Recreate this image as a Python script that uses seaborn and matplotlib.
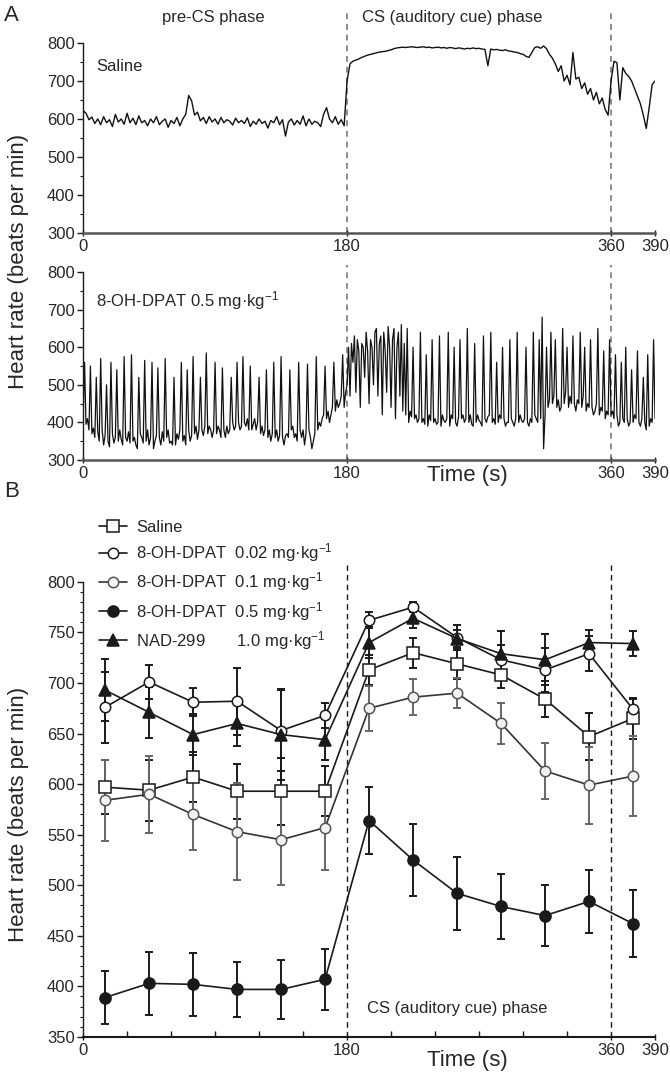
import numpy as np
import pandas as pd
import matplotlib
matplotlib.use("Agg")
import matplotlib.pyplot as plt
import seaborn as sns
from matplotlib.ticker import MultipleLocator

# ---- panel A: raw heart rate traces (beats per min)
# saline, one reading every 2 s from 0 to 390 s
saline_trace = [
    622, 615, 598, 605, 588, 600, 585, 606, 590, 598, 580, 612, 592, 600, 586,
    615, 590, 602, 585, 608, 590, 596, 582, 600, 590, 606, 585, 594, 600, 578,
    596, 588, 604, 582, 600, 612, 662, 648, 610, 618, 595, 604, 588, 606, 592,
    600, 586, 604, 590, 598, 594, 584, 602, 590, 596, 588, 603, 580, 594, 586,
    600, 588, 594, 576, 596, 590, 606, 585, 598, 555, 592, 600, 584, 596, 586,
    608, 582, 600, 586, 594, 590, 580, 612, 630, 600, 590, 606, 586, 598, 582,
    700, 745, 752, 755, 758, 762, 765, 768, 770, 772, 774, 776, 777, 778, 780,
    782, 785, 787, 788, 789, 788, 789, 790, 789, 788, 789, 790, 788, 789, 787,
    788, 789, 787, 788, 786, 788, 787, 785, 787, 786, 784, 786, 785, 787, 785,
    786, 784, 783, 740, 784, 782, 783, 781, 780, 782, 779, 778, 776, 775, 772,
    770, 765, 762, 775, 788, 790, 786, 792, 785, 770, 760, 745, 725, 740, 700,
    715, 690, 775, 705, 710, 680, 695, 665, 680, 650, 670, 640, 655, 625, 610,
    700, 752, 748, 650, 735, 720, 712, 700, 680, 660, 640, 610, 575, 630, 690,
    700,
]

# 8-OH-DPAT 0.5 mg/kg, one reading every 1 s from 0 to 390 s
dpat_trace = [
    400, 560, 395, 410, 380, 550, 370, 385, 360, 520,
    375, 350, 570, 380, 340, 365, 500, 350, 335, 560,
    370, 345, 360, 540, 350, 380, 355, 340, 575, 360,
    350, 375, 345, 580, 350, 360, 340, 330, 520, 370,
    360, 345, 565, 350, 380, 340, 360, 560, 330, 350,
    365, 545, 360, 340, 375, 350, 570, 360, 380, 345,
    350, 340, 520, 340, 370, 355, 380, 560, 350, 365,
    340, 540, 380, 350, 365, 575, 370, 390, 355, 380,
    520, 380, 365, 390, 585, 370, 390, 380, 360, 380,
    560, 370, 390, 380, 360, 545, 380, 360, 390, 370,
    380, 520, 400, 380, 390, 560, 400, 380, 390, 575,
    400, 390, 410, 380, 550, 380, 395, 410, 380, 400,
    520, 370, 390, 365, 380, 540, 360, 380, 350, 370,
    560, 360, 380, 350, 365, 575, 360, 340, 365, 370,
    360, 540, 380, 390, 360, 370, 350, 560, 380, 360,
    380, 340, 370, 555, 380, 360, 330, 350, 370, 575,
    380, 400, 390, 410, 420, 550, 410, 430, 400, 420,
    440, 560, 430, 460, 440, 450, 470, 580, 440, 480,
    500, 600, 470, 610, 560, 630, 480, 620, 590, 440,
    610, 600, 520, 640, 590, 450, 620, 600, 500, 640,
    650, 470, 610, 630, 420, 640, 590, 480, 655, 600,
    440, 620, 650, 410, 600, 640, 470, 660, 430, 610,
    420, 650, 400, 430, 415, 600, 410, 420, 400, 410,
    640, 400, 410, 395, 580, 390, 420, 405, 620, 400,
    410, 395, 400, 630, 390, 420, 405, 400, 410, 640,
    390, 420, 410, 600, 400, 390, 415, 620, 410, 420,
    400, 410, 650, 400, 420, 395, 390, 610, 400, 420,
    405, 400, 390, 630, 410, 400, 415, 420, 640, 400,
    410, 395, 560, 400, 420, 410, 600, 410, 390, 400,
    400, 620, 410, 400, 390, 410, 640, 400, 420, 405,
    400, 410, 600, 400, 390, 410, 400, 640, 420, 410,
    400, 620, 410, 680, 330, 420, 600, 440, 460, 640,
    450, 470, 620, 440, 460, 430, 440, 650, 450, 480,
    600, 440, 470, 450, 630, 450, 430, 460, 450, 640,
    440, 470, 600, 430, 450, 440, 620, 440, 420, 430,
    450, 650, 420, 440, 430, 590, 410, 430, 420, 620,
    420, 430, 410, 580, 420, 390, 400, 560, 410, 400,
    600, 410, 390, 400, 540, 400, 420, 410, 590, 400,
    390, 410, 520, 400, 380, 580, 390, 410, 400, 620, 410,
]

# ---- panel B: 30 s bin means and SEM
bin_times = [15, 45, 75, 105, 135, 165, 195, 225, 255, 285, 315, 345, 375]

saline_mean = [597, 594, 607, 593, 593, 593, 713, 730, 719, 708, 684, 647, 665]
saline_sem = [27, 30, 25, 27, 33, 25, 15, 15, 15, 13, 18, 23, 20]

dpat002_mean = [676, 701, 681, 682, 653, 668, 762, 775, 745, 723, 713, 729, 674]
dpat002_sem = [35, 17, 14, 33, 40, 12, 8, 5, 12, 15, 22, 17, 10]

dpat01_mean = [584, 590, 570, 553, 545, 557, 675, 686, 690, 660, 613, 599, 608]
dpat01_sem = [40, 38, 35, 48, 45, 42, 22, 18, 15, 20, 28, 38, 40]

dpat05_mean = [389, 403, 402, 397, 397, 407, 564, 525, 492, 479, 470, 484, 462]
dpat05_sem = [26, 31, 31, 27, 29, 30, 33, 36, 36, 32, 30, 31, 33]

nad_mean = [693, 671, 649, 660, 649, 644, 740, 764, 744, 729, 723, 740, 739]
nad_sem = [31, 25, 20, 22, 45, 20, 15, 10, 8, 22, 25, 12, 12]

group_labels = [
    "Saline",
    "8-OH-DPAT  0.02 mg·kg$^{-1}$",
    "8-OH-DPAT  0.1 mg·kg$^{-1}$",
    "8-OH-DPAT  0.5 mg·kg$^{-1}$",
    "NAD-299       1.0 mg·kg$^{-1}$",
]

sns.set_theme(style="ticks")
plt.rcParams['font.family'] = ['Liberation Sans', 'DejaVu Sans']
plt.rcParams['mathtext.default'] = 'regular'

fig = plt.figure(figsize=(6.7, 10.74), dpi=100)
W = 0.8537
axA1 = fig.add_axes([0.124, 0.7831, W, 0.1769])
axA2 = fig.add_axes([0.124, 0.5717, W, 0.1750])
axB = fig.add_axes([0.124, 0.0345, W, 0.4237])

FS = 12
LFS = 16


def style_axis(ax, ymin, ymax, ymajor, yminor):
    ax.set_xlim(0, 390)
    ax.set_ylim(ymin, ymax)
    ax.set_xticks([0, 180, 360, 390])
    ax.yaxis.set_major_locator(MultipleLocator(ymajor))
    ax.yaxis.set_minor_locator(MultipleLocator(yminor))
    sns.despine(ax=ax)
    ax.spines['left'].set_color('k')
    ax.spines['left'].set_linewidth(1.0)
    ax.tick_params(axis='y', which='major', direction='out', length=4, width=1,
                   color='k', labelsize=FS, pad=2)
    ax.tick_params(axis='y', which='minor', direction='out', length=2.5, width=0.8, color='k')
    ax.tick_params(axis='x', which='major', direction='inout', length=5, width=1,
                   color='k', labelsize=FS, pad=2)
    ax.set_xlabel('')
    ax.set_ylabel('')


# ---- panel A
t_sal = np.linspace(0, 390, len(saline_trace))
t_dpat = np.linspace(0, 390, len(dpat_trace))
sns.lineplot(x=t_sal, y=saline_trace, ax=axA1, color='#111111', lw=1.0, estimator=None)
sns.lineplot(x=t_dpat, y=dpat_trace, ax=axA2, color='#111111', lw=0.9, estimator=None)

for ax, top in [(axA1, 1.17), (axA2, 1.04)]:
    style_axis(ax, 300, 800, 100, 50)
    ax.spines['bottom'].set_color('#555555')
    ax.spines['bottom'].set_linewidth(1.8)
    for xv in (180, 360):
        ax.axvline(xv, ymin=0, ymax=top, color='#8c8c8c', lw=1.4,
                   ls=(0, (3, 2.5)), clip_on=False, zorder=0)

axA1.text(9, 737, 'Saline', fontsize=FS, va='center', ha='left')
axA2.text(9, 725, '8-OH-DPAT 0.5 mg·kg$^{-1}$', fontsize=FS, va='center', ha='left')
axA1.text(89, 866, 'pre-CS phase', fontsize=FS, va='center', ha='center')
axA1.text(252, 866, 'CS (auditory cue) phase', fontsize=FS, va='center', ha='center')
axA2.text(262, -0.08, 'Time (s)', fontsize=LFS, va='center', ha='center',
          transform=axA2.get_xaxis_transform())

# ---- panel B
series = [
    (saline_mean, saline_sem, 's', 'white', 'k', 'k', 'k'),
    (dpat002_mean, dpat002_sem, 'o', 'white', 'k', 'k', 'k'),
    (dpat01_mean, dpat01_sem, 'o', '#f2f2f2', '#555555', '#333333', '#666666'),
    (dpat05_mean, dpat05_sem, 'o', 'k', 'k', 'k', 'k'),
    (nad_mean, nad_sem, '^', 'k', 'k', 'k', 'k'),
]

for (mean, sem, mk, fc, ec, lc, errc), lab in zip(series, group_labels):
    df = pd.DataFrame({'time': bin_times, 'hr': mean})
    axB.errorbar(bin_times, mean, yerr=sem, fmt='none', ecolor=errc,
                 elinewidth=1.4, capsize=3, capthick=1.4, zorder=2)
    sns.lineplot(data=df, x='time', y='hr', ax=axB, color=lc, lw=1.2,
                 marker=mk, markersize=8 if mk != 'o' or fc == 'k' else 7.5,
                 markerfacecolor=fc, markeredgecolor=ec, markeredgewidth=1.1,
                 estimator=None, label=lab, zorder=3)

style_axis(axB, 350, 800, 50, 10)
axB.xaxis.set_minor_locator(MultipleLocator(30))
axB.tick_params(axis='x', which='minor', direction='in', length=4, width=1, color='k')
axB.spines['bottom'].set_linewidth(1.5)
axB.spines['bottom'].set_color('k')
for xv in (180, 360):
    axB.axvline(xv, ymin=0, ymax=1.037, color='k', lw=1.0, ls=(0, (4, 3)),
                clip_on=False, zorder=1)
axB.text(255, 378, 'CS (auditory cue) phase', fontsize=FS, va='center', ha='center')
axB.text(262, -0.052, 'Time (s)', fontsize=LFS, va='center', ha='center',
         transform=axB.get_xaxis_transform())

h, l = axB.get_legend_handles_labels()
if axB.legend_:
    axB.legend_.remove()
fig.legend(h, l, loc='upper left', bbox_to_anchor=(0.148, 0.516), frameon=False,
           fontsize=FS, handlelength=1.7, handletextpad=0.5, labelspacing=0.38,
           borderaxespad=0, borderpad=0)

# shared labels and panel letters
fig.text(0.027, 0.757, 'Heart rate (beats per min)', rotation=90, fontsize=LFS,
         va='center', ha='center')
fig.text(0.027, 0.242, 'Heart rate (beats per min)', rotation=90, fontsize=LFS,
         va='center', ha='center')
fig.text(0.006, 0.995, 'A', fontsize=16, va='top', ha='left')
fig.text(0.006, 0.552, 'B', fontsize=16, va='top', ha='left')

fig.savefig('out.png', dpi=100)
